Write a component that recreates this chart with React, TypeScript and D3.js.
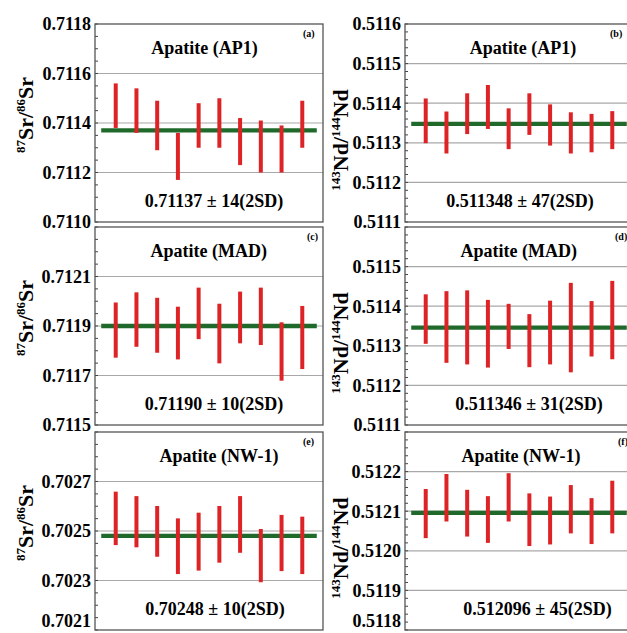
import React, { useEffect, useRef } from "react";
import * as d3 from "d3";

// top / bottom of each 2SD bar, 10 analyses per panel
const srAp1Hi = [0.71156, 0.71154, 0.71149, 0.71136, 0.71148, 0.7115, 0.71142, 0.71141, 0.71139, 0.71149];
const srAp1Lo = [0.71138, 0.71136, 0.71129, 0.71117, 0.7113, 0.7113, 0.71123, 0.7112, 0.7112, 0.7113];
const srAp1Mean = 0.71137;

const ndAp1Hi = [0.511412, 0.511379, 0.511425, 0.511446, 0.511387, 0.511425, 0.511397, 0.511377, 0.511373, 0.51138];
const ndAp1Lo = [0.511299, 0.511273, 0.511322, 0.511335, 0.511284, 0.51132, 0.511293, 0.511273, 0.511276, 0.511284];
const ndAp1Mean = 0.511348;

const srMadHi = [0.711995, 0.712036, 0.712014, 0.711978, 0.712055, 0.71199, 0.712039, 0.712055, 0.711915, 0.711981];
const srMadLo = [0.711772, 0.711816, 0.711792, 0.711765, 0.711847, 0.711749, 0.71183, 0.711823, 0.711679, 0.711726];
const srMadMean = 0.7119;

const ndMadHi = [0.51143, 0.511438, 0.51144, 0.511416, 0.511406, 0.51138, 0.511414, 0.511459, 0.511413, 0.511464];
const ndMadLo = [0.511305, 0.511257, 0.511253, 0.511245, 0.511292, 0.511246, 0.511253, 0.511233, 0.511273, 0.511266];
const ndMadMean = 0.511346;

const srNwHi = [0.702659, 0.702641, 0.702601, 0.702551, 0.702574, 0.702601, 0.702641, 0.702508, 0.702565, 0.702558];
const srNwLo = [0.702443, 0.702434, 0.702396, 0.702326, 0.70234, 0.702372, 0.702412, 0.702293, 0.702338, 0.702326];
const srNwMean = 0.70248;

const ndNwHi = [0.512156, 0.512194, 0.512154, 0.512138, 0.512196, 0.512145, 0.512137, 0.512166, 0.512133, 0.512177];
const ndNwLo = [0.512032, 0.512074, 0.512036, 0.51202, 0.512074, 0.512012, 0.512016, 0.512044, 0.512017, 0.512044];
const ndNwMean = 0.512096;

// tick labels
const srAp1Ticks = ["0.7110", "0.7112", "0.7114", "0.7116", "0.7118"];
const ndAp1Ticks = ["0.5111", "0.5112", "0.5113", "0.5114", "0.5115", "0.5116"];
const srMadTicks = ["0.7115", "0.7117", "0.7119", "0.7121"];
const ndMadTicks = ["0.5111", "0.5112", "0.5113", "0.5114", "0.5115"];
const srNwTicks = ["0.7021", "0.7023", "0.7025", "0.7027"];
const ndNwTicks = ["0.5118", "0.5119", "0.5120", "0.5121", "0.5122"];

const panels = [
  { tag: "(a)", iso: "Sr", title: "Apatite (AP1)", stat: "0.71137 ± 14(2SD)", hi: srAp1Hi, lo: srAp1Lo, mean: srAp1Mean,
    domain: [0.711, 0.7118], ticks: srAp1Ticks, minor: 0.00005, col: 0, row: 0, titleX: 109.5, statX: 119, tagX: 208 },
  { tag: "(b)", iso: "Nd", title: "Apatite (AP1)", stat: "0.511348 ± 47(2SD)", hi: ndAp1Hi, lo: ndAp1Lo, mean: ndAp1Mean,
    domain: [0.5111, 0.5116], ticks: ndAp1Ticks, minor: 0.00002, col: 1, row: 0, titleX: 118, statX: 115, tagX: 205 },
  { tag: "(c)", iso: "Sr", title: "Apatite (MAD)", stat: "0.71190 ± 10(2SD)", hi: srMadHi, lo: srMadLo, mean: srMadMean,
    domain: [0.7115, 0.7123], ticks: srMadTicks, minor: 0.00005, col: 0, row: 1, titleX: 113.7, statX: 119, tagX: 212 },
  { tag: "(d)", iso: "Nd", title: "Apatite (MAD)", stat: "0.511346 ± 31(2SD)", hi: ndMadHi, lo: ndMadLo, mean: ndMadMean,
    domain: [0.5111, 0.5116], ticks: ndMadTicks, minor: 0.00002, col: 1, row: 1, titleX: 113.7, statX: 124, tagX: 210 },
  { tag: "(e)", iso: "Sr", title: "Apatite (NW-1)", stat: "0.70248 ± 10(2SD)", hi: srNwHi, lo: srNwLo, mean: srNwMean,
    domain: [0.7021, 0.7029], ticks: srNwTicks, minor: 0.00005, col: 0, row: 2, titleX: 124, statX: 120, tagX: 208 },
  { tag: "(f)", iso: "Nd", title: "Apatite (NW-1)", stat: "0.512096 ± 45(2SD)", hi: ndNwHi, lo: ndNwLo, mean: ndNwMean,
    domain: [0.5118, 0.5123], ticks: ndNwTicks, minor: 0.00002, col: 1, row: 2, titleX: 116, statX: 132.5, tagX: 213 },
];

const W = 627, H = 633;
const colX = [95, 405];
const rowY = [24, 227, 432];
const pw = 228, ph = 198;
const font = "Liberation Serif, DejaVu Serif, Times New Roman, serif";

export default function App() {
  const ref = useRef<SVGSVGElement>(null);

  useEffect(() => {
    const svg = d3.select(ref.current);
    svg.selectAll("*").remove();

    panels.forEach((p) => {
      const left = colX[p.col], top = rowY[p.row];
      const g = svg.append("g").attr("transform", `translate(${left},${top})`)
        .attr("font-family", font).attr("font-weight", "bold");

      const x = d3.scaleLinear().domain([0, 11]).range([0, pw]);
      const y = d3.scaleLinear().domain(p.domain).range([ph, 0]);
      const idx = d3.range(1, p.hi.length + 1);

      // grid lines at inner ticks
      const tickVals = p.ticks.map(Number);
      g.selectAll(".grid").data(tickVals.filter((t) => t > p.domain[0] + 1e-9 && t < p.domain[1] - 1e-9)).join("line")
        .attr("class", "grid")
        .attr("x1", 0).attr("x2", pw)
        .attr("y1", (d) => y(d)).attr("y2", (d) => y(d))
        .attr("stroke", "#a8a8a8").attr("stroke-width", 1.2);

      // minor ticks (inside)
      const nMinor = Math.round((p.domain[1] - p.domain[0]) / p.minor);
      const minors = d3.range(0, nMinor + 1).map((i) => p.domain[0] + i * p.minor);
      g.selectAll(".minor").data(minors).join("line")
        .attr("class", "minor")
        .attr("x1", 0).attr("x2", 3)
        .attr("y1", (d) => y(d)).attr("y2", (d) => y(d))
        .attr("stroke", "#444").attr("stroke-width", 1);

      // frame
      g.append("rect").attr("x", 0).attr("y", 0).attr("width", pw).attr("height", ph)
        .attr("fill", "none").attr("stroke", "#555").attr("stroke-width", 1.3);

      // mean line
      g.append("line")
        .attr("x1", x(0.3)).attr("x2", x(10.7))
        .attr("y1", y(p.mean)).attr("y2", y(p.mean))
        .attr("stroke", "#1f6a2b").attr("stroke-width", 4.3);

      // 2SD bars
      g.selectAll(".bar").data(idx).join("line")
        .attr("class", "bar")
        .attr("x1", (d) => x(d)).attr("x2", (d) => x(d))
        .attr("y1", (d) => y(p.hi[d - 1])).attr("y2", (d) => y(p.lo[d - 1]))
        .attr("stroke", "#dd2326").attr("stroke-width", 4);

      // tick labels (bottom row kept inside the picture)
      const maxY = H - top - 12;
      g.selectAll(".tlab").data(p.ticks).join("text")
        .attr("class", "tlab")
        .attr("x", -4).attr("y", (d) => Math.min(y(+d), maxY)).attr("dy", "0.35em")
        .attr("text-anchor", "end")
        .attr("font-size", 18)
        .text((d) => d);

      // titles
      g.append("text").attr("x", p.titleX).attr("y", 30).attr("text-anchor", "middle")
        .attr("font-size", 18)
        .text(p.title);
      g.append("text").attr("x", p.statX).attr("y", 183).attr("text-anchor", "middle")
        .attr("font-size", 18)
        .text(p.stat);
      g.append("text").attr("x", p.tagX).attr("y", 13)
        .attr("font-size", 10)
        .text(p.tag);

      // y axis title
      const isSr = p.iso === "Sr";
      const sup1 = isSr ? "87" : "143", sup2 = isSr ? "86" : "144";
      const cy = isSr ? ph / 2 - 8 : ph / 2 + 17;
      const tx = isSr ? -62 : -57;
      const yt = g.append("text")
        .attr("transform", `translate(${tx},${cy}) rotate(-90)`)
        .attr("text-anchor", "middle")
        .attr("font-size", 22);
      yt.append("tspan").attr("font-size", 13).attr("dy", -8).text(sup1);
      yt.append("tspan").attr("dy", 8).text(p.iso + "/");
      yt.append("tspan").attr("font-size", 13).attr("dy", -8).text(sup2);
      yt.append("tspan").attr("dy", 8).text(p.iso);
    });
  }, []);

  return (
    <svg ref={ref} width={W} height={H}
      style={{ position: "absolute", left: 0, top: 0, background: "#fff", display: "block" }} />
  );
}
